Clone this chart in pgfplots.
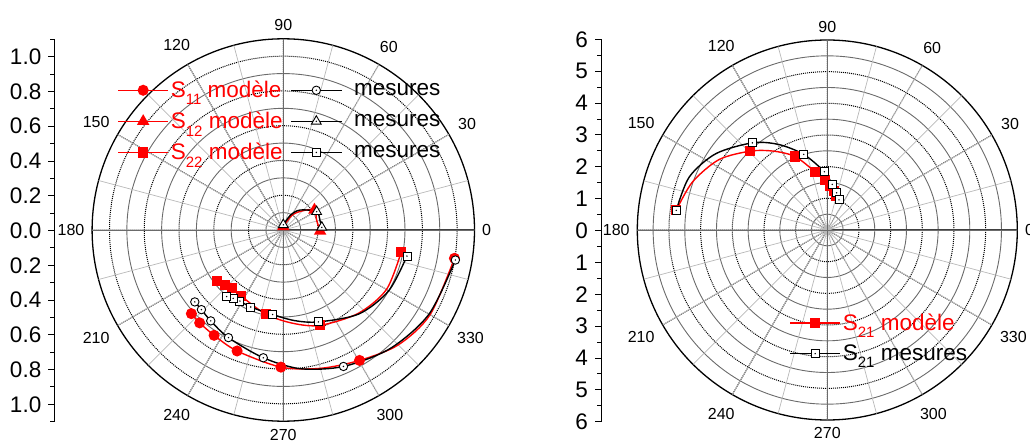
\documentclass[border=0pt]{standalone}
\usepackage{fontspec}
\setmainfont{Liberation Sans}
\usepackage{pgfplots}
\pgfplotsset{compat=1.18}
\usepgfplotslibrary{polar}
\definecolor{gridlight}{gray}{0.72}
\definecolor{gridmid}{gray}{0.42}

\pgfdeclareplotmark{ocirc}{%
  \pgfpathcircle{\pgfpointorigin}{\pgfplotmarksize}%
  \pgfusepathqfillstroke
  \begin{pgfscope}\pgfsetfillcolor{black}%
  \pgfpathcircle{\pgfpointorigin}{0.8pt}\pgfusepathqfill\end{pgfscope}}
\pgfdeclareplotmark{osquare}{%
  \pgfpathrectangle{\pgfpoint{-\pgfplotmarksize}{-\pgfplotmarksize}}{\pgfpoint{2\pgfplotmarksize}{2\pgfplotmarksize}}%
  \pgfusepathqfillstroke
  \begin{pgfscope}\pgfsetfillcolor{black}%
  \pgfpathcircle{\pgfpointorigin}{0.8pt}\pgfusepathqfill\end{pgfscope}}
\pgfdeclareplotmark{otriangle}{%
  \pgfpathmoveto{\pgfpointpolar{90}{1.2\pgfplotmarksize}}%
  \pgfpathlineto{\pgfpointpolar{210}{1.2\pgfplotmarksize}}%
  \pgfpathlineto{\pgfpointpolar{330}{1.2\pgfplotmarksize}}%
  \pgfpathclose
  \pgfusepathqfillstroke
  \begin{pgfscope}\pgfsetfillcolor{black}%
  \pgfpathcircle{\pgfpointorigin}{0.8pt}\pgfusepathqfill\end{pgfscope}}

\newcommand\sub[1]{\raisebox{-0.6ex}{\fontsize{15}{15}\selectfont #1}}

\pgfplotsset{
  mypolar/.style={
    scale only axis,
    xmin=0, xmax=360, ymin=0,
    xtick={0,30,...,330},
    xticklabels={0,30,60,90,120,150,180,210,240,270,300,330},
    xticklabel style={font=\fontsize{16}{16}\selectfont, inner sep=7.5pt},
    yticklabels={},
    ymajorgrids, yminorgrids,
    major grid style={black, dash pattern=on 1pt off 1pt, line width=1pt},
    minor grid style={gridmid, solid, line width=0.9pt},
    extra x ticks={0,15,...,345},
    extra x tick labels={},
    extra x tick style={grid=major, major grid style={solid, gridlight, line width=0.7pt}},
    tick style={draw=none},
    axis line style={black, line width=1.3pt},
    /pgf/number format/assume math mode=true,
    legend image code/.code={\draw[##1,mark indices={2}] plot coordinates {(0pt,0pt) (25pt,0pt) (50pt,0pt)};},
    legend style={draw=none, fill=none, font=\fontsize{22.5}{22.5}\selectfont,
      legend cell align=left, row sep=9pt},
  },
  mylin/.style={
    scale only axis, width=1pt,
    xmin=0, xmax=1,
    hide x axis,
    axis y line*=left,
    y axis line style={-, black, line width=0.9pt},
    tick align=outside,
    major tick length=6pt, minor tick length=4pt,
    tick style={black, line width=0.9pt},
    yticklabel style={font=\fontsize{22.5}{22.5}\selectfont, xshift=-3.5pt},
  },
  model/.style={red, line width=1.4pt, smooth, mark options={solid, fill=red, draw=red}},
  meas/.style={black, line width=1.4pt, smooth, mark options={solid, fill=white, draw=black, line width=0.9pt}},
}

\begin{document}
\begin{tikzpicture}
\path[use as bounding box] (0pt,0pt) rectangle (1030pt,447pt);

% left linear scale
\begin{axis}[mylin,
  at={(54.3pt,25.3pt)}, anchor=south west, height=382.4pt,
  ymin=-1.1, ymax=1.1,
  ytick={-1,-0.8,-0.6,-0.4,-0.2,0,0.2,0.4,0.6,0.8,1},
  yticklabels={1.0,0.8,0.6,0.4,0.2,0.0,0.2,0.4,0.6,0.8,1.0},
  minor ytick={-1.1,-0.9,-0.7,-0.5,-0.3,-0.1,0.1,0.3,0.5,0.7,0.9,1.1},
]
\end{axis}

% left polar
\begin{polaraxis}[mypolar,
  at={(283.3pt,217pt)}, anchor=center,
  width=382.4pt, height=382.4pt,
  ymax=1.1,
  ytick={0.2,0.4,0.6,0.8,1.0},
  minor ytick={0.1,0.3,0.5,0.7,0.9},
  legend columns=2,
  legend style={at={(axis description cs:0.058,0.9)}, anchor=north west,
    /tikz/every even column/.append style={column sep=6pt}},
]
\draw[gridmid, line width=0.8pt] (axis cs:0,1.1) -- (axis cs:180,1.1);
\draw[gridmid, line width=0.8pt] (axis cs:90,1.1) -- (axis cs:270,1.1);

\addplot[model, mark=*, mark size=4.8pt, mark indices={1,4,6,7,8,9,10}] coordinates {
 (350.6,0.998) (330,0.975) (315,0.935) (300.3,0.869) (285,0.824) (269,0.789)
 (249.1,0.745) (236.7,0.725) (228.0,0.719) (222.3,0.715)};
\addlegendentry{\color{red}S\sub{11} modèle}
\addplot[meas, mark=ocirc, mark size=4.2pt, mark indices={1,4,6,7,8,9,10}] coordinates {
 (350.1,1.005) (330,0.968) (312,0.918) (293.8,0.858) (277,0.804) (261.1,0.744)
 (243.0,0.695) (231.4,0.669) (224.2,0.657) (219.1,0.656)};
\addlegendentry{\hspace{10pt}mesures}

\addplot[model, mark=triangle*, mark size=5.8pt, mark indices={1,4,6}] coordinates {
 (90,0.02) (60,0.096) (46,0.152) (32.8,0.213) (16.7,0.20) (358.4,0.212)};
\addlegendentry{\color{red}S\sub{12} modèle}
\addplot[meas, mark=otriangle, mark size=4.7pt, mark indices={1,4,6}] coordinates {
 (90,0.03) (64,0.096) (50,0.15) (28.8,0.219) (13.8,0.218) (4.0,0.222)};
\addlegendentry{\hspace{10pt}mesures}

\addplot[model, mark=square*, mark size=4.4pt, mark indices={1,4,6,7,8,9,10}] coordinates {
 (349.5,0.69) (330,0.685) (312,0.645) (291.1,0.588) (276,0.54) (258.5,0.495)
 (237.5,0.451) (228.7,0.447) (223.0,0.461) (217.7,0.48)};
\addlegendentry{\color{red}S\sub{22} modèle}
\addplot[meas, mark=osquare, mark size=4pt, mark indices={1,4,6,7,8,9,10}] coordinates {
 (348.1,0.727) (330,0.70) (312,0.65) (290.9,0.566) (277,0.525) (262.8,0.49)
 (247.1,0.481) (238.6,0.479) (233.8,0.488) (229.6,0.503)};
\addlegendentry{\hspace{10pt}mesures}
\end{polaraxis}

% right linear scale
\begin{axis}[mylin,
  at={(601pt,25.3pt)}, anchor=south west, height=382.4pt,
  ymin=-6, ymax=6,
  ytick={-6,-5,-4,-3,-2,-1,0,1,2,3,4,5,6},
  yticklabels={6,5,4,3,2,1,0,1,2,3,4,5,6},
  minor ytick={-5.5,-4.5,-3.5,-2.5,-1.5,-0.5,0.5,1.5,2.5,3.5,4.5,5.5},
]
\end{axis}

% right polar
\begin{polaraxis}[mypolar,
  at={(827.3pt,217pt)}, anchor=center,
  width=380pt, height=380pt,
  ymax=6,
  ytick={1,2,3,4,5},
  minor ytick={0.5,1.5,2.5,3.5,4.5,5.5},
  legend style={at={(axis description cs:0.392,0.29)}, anchor=north west},
]
\draw[gridmid, line width=0.8pt] (axis cs:0,6) -- (axis cs:180,6);
\draw[gridmid, line width=0.8pt] (axis cs:90,6) -- (axis cs:270,6);

\addplot[model, mark=square*, mark size=4.4pt, mark indices={1,4,6,7,8,9,10,11}] coordinates {
 (172.6,4.81) (160.4,4.52) (147,4.08) (134.3,3.48) (124.2,3.01) (113.6,2.53)
 (101.9,1.88) (92.6,1.58) (86,1.40) (80,1.25) (75.5,1.12)};
\addlegendentry{\color{red}S\sub{21} modèle}
\addplot[meas, mark=osquare, mark size=4pt, mark indices={1,4,6,7,8,9,10}] coordinates {
 (172.6,4.81) (159,4.67) (145.7,4.27) (130.7,3.63) (119.7,3.11) (107.3,2.50)
 (92.9,1.84) (83.8,1.45) (75.9,1.21) (68.7,1.02)};
\addlegendentry{S\sub{21} mesures}
\end{polaraxis}
\end{tikzpicture}
\end{document}
